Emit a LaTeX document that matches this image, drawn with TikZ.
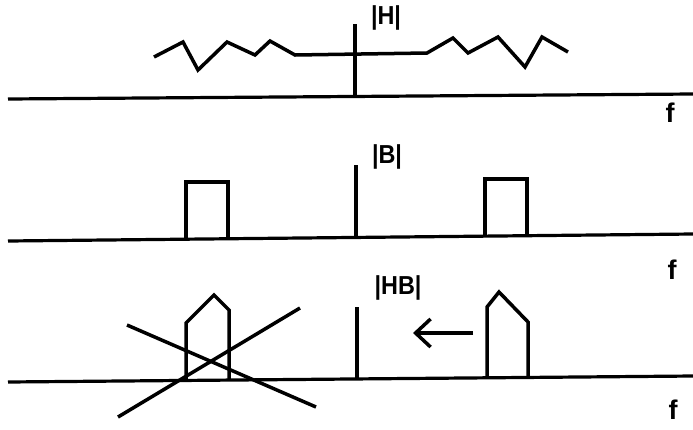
\documentclass[tikz,border=0pt]{standalone}
\usepackage{fontspec}
\setmainfont{Liberation Sans}
\usetikzlibrary{arrows.meta}
\tikzset{
  ln/.style={line width=3.5pt, line join=miter, line cap=butt},
  ax/.style={line width=3.2pt},
  lbl/.style={font=\fontsize{26}{28}\selectfont\bfseries, inner sep=0pt, xscale=0.9},
  flbl/.style={font=\fontsize{27}{29}\selectfont\bfseries, inner sep=0pt}
}
\begin{document}
\begin{tikzpicture}[x=1pt,y=-1pt]
\useasboundingbox (0,0) rectangle (693,429);
% ---------- panel 1 ----------
\coordinate (a1l) at (8,99);
\coordinate (a1r) at (693,94);
\draw[ax] (a1l) -- (a1r);
\coordinate (h1t) at (355,24);
\coordinate (h1b) at (355,98);
\draw[ln] (h1t) -- (h1b);
\draw[ln] (154,57) -- (183,42) -- (198,70) -- (227,42) -- (255,55) -- (270,41) -- (295,55)
  -- (427,53) -- (453,38) -- (468,53) -- (498,37) -- (525,67) -- (542,37) -- (568,52);
\node[lbl] (H) at (386,18) {|H|};
\node[flbl] (f1) at (670,113) {f};
% ---------- panel 2 ----------
\coordinate (a2l) at (8,241);
\coordinate (a2r) at (693,234);
\draw[ax] (a2l) -- (a2r);
\coordinate (b2t) at (356,165);
\coordinate (b2b) at (356,238);
\draw[ln] (b2t) -- (b2b);
\draw[ln] (186,239) -- (186,182) -- (228,182) -- (228,239);
\draw[ln] (485,236) -- (485,179) -- (527,179) -- (527,235);
\node[lbl] (B) at (387,157) {|B|};
\node[flbl] (f2) at (672,270) {f};
% ---------- panel 3 ----------
\coordinate (a3l) at (8,382);
\coordinate (a3r) at (693,376);
\draw[ax] (a3l) -- (a3r);
\coordinate (c3t) at (357,307);
\coordinate (c3b) at (357,379);
\draw[ln] (c3t) -- (c3b);
\draw[ln] (186,380) -- (186,323) -- (214,295) -- (229,310) -- (229,380);
\draw[ln] (127,325) -- (316,407);
\draw[ln] (118,417) -- (300,308);
\draw[ln] (487,378) -- (487,307) -- (499,292) -- (528,322) -- (528,377);
\coordinate (arS) at (473,333);
\coordinate (arE) at (413,333);
\draw[ln, -{Straight Barb[length=15pt,width=28pt,line width=3.5pt]}] (arS) -- (arE);
\node[lbl] (HB) at (398,288) {|HB|};
\node[flbl] (f3) at (673,410) {f};
\end{tikzpicture}
\end{document}
